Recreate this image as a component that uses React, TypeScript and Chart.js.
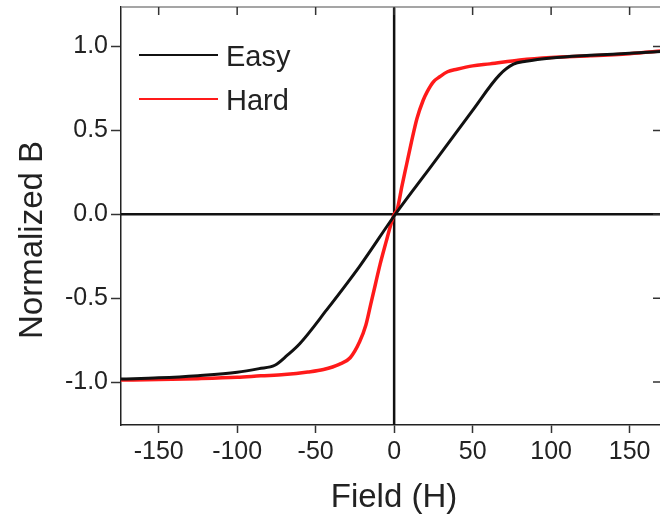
import React, { useEffect, useRef } from "react";
import { Chart, registerables } from "chart.js";

Chart.register(...registerables);

// Easy axis loop (black)
const easyField = [-174, -150, -125, -100, -86, -76, -68, -60, -43, -22, 0, 15, 29, 50, 67, 76, 84, 100, 125, 150, 172];
const easyB = [-0.982, -0.975, -0.962, -0.942, -0.92, -0.9, -0.84, -0.77, -0.57, -0.31, -0.01, 0.18, 0.354, 0.62, 0.83, 0.895, 0.912, 0.932, 0.948, 0.96, 0.972];

// Hard axis loop (red)
const hardField = [-174, -150, -125, -100, -85, -70, -55, -45, -35, -28, -22, -18, -15, -12, -9, -5, -2.5, 0, 2, 5, 8, 11, 14.5, 18.5, 21, 25, 29, 34, 40, 50, 61, 80, 100, 125, 150, 172];
const hardB = [-0.988, -0.985, -0.98, -0.972, -0.963, -0.955, -0.94, -0.925, -0.895, -0.855, -0.76, -0.66, -0.54, -0.42, -0.3, -0.16, -0.074, 0.0, 0.03, 0.17, 0.3, 0.43, 0.57, 0.68, 0.73, 0.79, 0.82, 0.85, 0.865, 0.885, 0.897, 0.92, 0.935, 0.945, 0.958, 0.975];

const seriesNames = ["Easy", "Hard"];
const seriesColors = ["#111111", "#ff1a1a"];

const xTitle = "Field (H)";
const yTitle = "Normalized B";

const FONT = "'Liberation Sans', Arial, Helvetica, sans-serif";
const TEXT = "#222222";

const decor = {
  id: "decor",
  beforeDatasetsDraw(chart: any) {
    const { ctx, chartArea: a, scales } = chart;
    const x = scales.x;
    const y = scales.y;
    ctx.save();
    const x0 = x.getPixelForValue(0);
    const y0 = y.getPixelForValue(0);
    ctx.strokeStyle = "#111";
    ctx.lineWidth = 2.5;
    ctx.beginPath();
    ctx.moveTo(x0, a.top);
    ctx.lineTo(x0, a.bottom);
    ctx.moveTo(a.left, y0);
    ctx.lineTo(a.right, y0);
    ctx.stroke();
    ctx.strokeStyle = "#888";
    ctx.lineWidth = 1.5;
    ctx.beginPath();
    ctx.moveTo(a.left, a.top);
    ctx.lineTo(a.right, a.top);
    ctx.moveTo(a.right, a.top);
    ctx.lineTo(a.right, a.bottom);
    ctx.stroke();
    ctx.strokeStyle = "#333";
    ctx.lineWidth = 1.5;
    ctx.beginPath();
    x.ticks.forEach((t: any) => {
      const px = x.getPixelForValue(t.value);
      ctx.moveTo(px, a.top);
      ctx.lineTo(px, a.top + 8);
    });
    y.ticks.forEach((t: any) => {
      const py = y.getPixelForValue(t.value);
      ctx.moveTo(a.right - 8, py);
      ctx.lineTo(a.right, py);
    });
    ctx.stroke();
    ctx.restore();
  },
  afterDraw(chart: any) {
    const { ctx } = chart;
    ctx.save();
    const rows = [55, 99];
    seriesNames.forEach((name, i) => {
      ctx.strokeStyle = seriesColors[i];
      ctx.lineWidth = 2;
      ctx.beginPath();
      ctx.moveTo(139, rows[i]);
      ctx.lineTo(218, rows[i]);
      ctx.stroke();
      ctx.fillStyle = TEXT;
      ctx.font = `29px ${FONT}`;
      ctx.textAlign = "left";
      ctx.textBaseline = "alphabetic";
      ctx.fillText(name, 226, rows[i] + 11);
    });
    ctx.fillStyle = TEXT;
    ctx.font = `33px ${FONT}`;
    ctx.textAlign = "center";
    ctx.textBaseline = "alphabetic";
    ctx.fillText(xTitle, 394, 507);
    ctx.translate(42, 240);
    ctx.rotate(-Math.PI / 2);
    ctx.fillText(yTitle, 0, 0);
    ctx.restore();
  },
};

export default function App() {
  const ref = useRef<HTMLCanvasElement | null>(null);
  useEffect(() => {
    if (!ref.current) return;
    const mk = (xs: number[], ys: number[]) => xs.map((v, i) => ({ x: v, y: ys[i] }));
    const chart = new Chart(ref.current, {
      type: "scatter",
      data: {
        datasets: [
          {
            label: seriesNames[0],
            data: mk(easyField, easyB),
            showLine: true,
            borderColor: seriesColors[0],
            borderWidth: 3,
            pointRadius: 0,
            cubicInterpolationMode: "monotone",
          },
          {
            label: seriesNames[1],
            data: mk(hardField, hardB),
            showLine: true,
            borderColor: seriesColors[1],
            borderWidth: 3.5,
            pointRadius: 0,
            cubicInterpolationMode: "monotone",
          },
        ],
      },
      options: {
        animation: false,
        responsive: false,
        devicePixelRatio: 1,
        layout: { padding: { left: 0, top: 7, right: 3, bottom: 0 } },
        plugins: { legend: { display: false }, tooltip: { enabled: false } },
        scales: {
          x: {
            type: "linear",
            position: "bottom",
            min: -174,
            max: 170,
            afterFit: (s: any) => {
              s.height = 93;
              s.paddingLeft = 0;
              s.paddingRight = 0;
            },
            ticks: {
              stepSize: 50,
              includeBounds: false,
              padding: 4,
              maxRotation: 0,
              autoSkip: false,
              color: TEXT,
              font: { size: 25, family: FONT },
            },
            grid: { drawOnChartArea: false, drawTicks: true, tickLength: 8, tickColor: "#333", tickWidth: 1.5 },
            border: { display: true, color: "#222", width: 1.5 },
          },
          y: {
            type: "linear",
            position: "left",
            min: -1.256,
            max: 1.236,
            afterFit: (s: any) => {
              s.width = 121;
              s.paddingTop = 0;
              s.paddingBottom = 0;
            },
            ticks: {
              stepSize: 0.5,
              includeBounds: false,
              padding: 3,
              color: TEXT,
              font: { size: 25, family: FONT },
              callback: (v: any) => Number(v).toFixed(1),
            },
            grid: { drawOnChartArea: false, drawTicks: true, tickLength: 10, tickColor: "#333", tickWidth: 1.5 },
            border: { display: true, color: "#222", width: 1.5 },
          },
        },
      },
      plugins: [decor],
    });
    return () => chart.destroy();
  }, []);
  return (
    <div style={{ position: "fixed", left: 0, top: 0, width: 660, height: 518, overflow: "hidden", background: "#fff" }}>
      <canvas ref={ref} width={664} height={518} style={{ width: 664, height: 518, display: "block" }} />
    </div>
  );
}
